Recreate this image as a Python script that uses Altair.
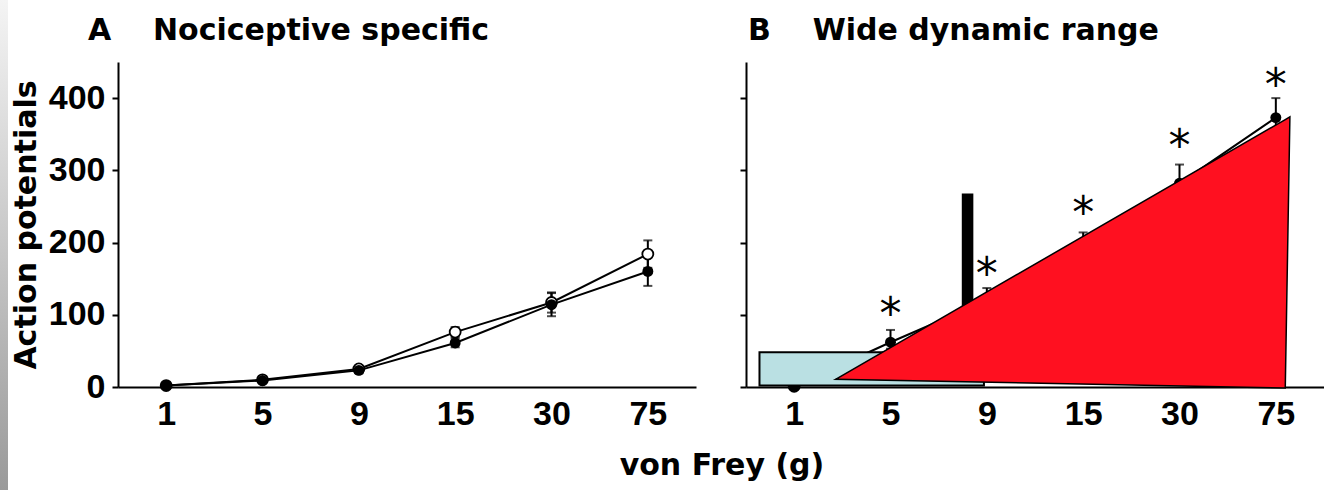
import json
import altair as alt
import pandas as pd

# ---------------- data ----------------
forces = ["1", "5", "9", "15", "30", "75"]
force_idx = [0, 1, 2, 3, 4, 5]

# Panel A: nociceptive specific
a_filled = [2, 9, 23, 61, 114, 160]
a_filled_err = [2, 3, 4, 6, 16, 20]
a_open = [2, 10, 25, 76, 117, 184]
a_open_err = [2, 3, 4, 7, 14, 19]

# Panel B: wide dynamic range
b_filled = [1, 62, 120, 195, 282, 373]
b_filled_err = [2, 17, 17, 19, 26, 27]
b_open = [1, 45, 95, 165, 250, 340]
b_open_err = [1, 8, 12, 15, 20, 15]

# significance stars in panel B
star_idx = [1, 2, 3, 4, 5]
star_val = [115, 171, 255, 347, 432]

# overlay shapes drawn on panel B (force index units, action potentials)
box_x = [-0.36]
box_x2 = [1.97]
box_y = [2]
box_y2 = [48]
bar_x = [1.74]
bar_x2 = [1.86]
bar_y = [60]
bar_y2 = [268]
tri_x = [0.43, 5.098, 5.146]
tri_top = [10.6, 370.3, 374]
tri_bottom = [10.6, -1.4, 374]

# ---------------- helpers ----------------
LABEL_FONT = "Liberation Sans"
TITLE_FONT = "DejaVu Sans"


def series_frame(filled, filled_err, opened, opened_err):
    rows = []
    for name, vals, errs in (("open", opened, opened_err), ("filled", filled, filled_err)):
        for i, v, e in zip(force_idx, vals, errs):
            rows.append({"x": i, "y": v, "lo": v - e, "hi": v + e, "series": name})
    return pd.DataFrame(rows)


xs = alt.Scale(domain=[-0.5, 5.5], nice=False, zero=False)
ys = alt.Scale(domain=[0, 450], nice=False)

x_axis = alt.Axis(
    values=force_idx,
    labelExpr=json.dumps(forces) + "[datum.value]",
    ticks=False,
    grid=False,
    title=None,
    labelFont=LABEL_FONT,
    labelFontSize=34,
    labelFontWeight="bold",
    labelPadding=10,
    labelColor="black",
    domainColor="black",
    domainWidth=2,
)


def y_axis(show):
    return alt.Axis(
        values=[0, 100, 200, 300, 400],
        grid=False,
        labels=show,
        title="Action potentials" if show else None,
        titleFont=TITLE_FONT,
        titleFontSize=30,
        titleFontWeight="bold",
        titleColor="black",
        titlePadding=7,
        labelFont=LABEL_FONT,
        labelFontSize=34,
        labelFontWeight="bold",
        labelPadding=7,
        labelColor="black",
        tickSize=6,
        tickWidth=2,
        tickColor="black",
        domainColor="black",
        domainWidth=2,
    )


def data_layers(df, show_labels):
    X = alt.X("x:Q", scale=xs, axis=x_axis)
    ya = y_axis(show_labels)
    base = alt.Chart(df)
    lines = base.mark_line(color="black", strokeWidth=2).encode(
        x=X, y=alt.Y("y:Q", scale=ys, axis=ya), detail="series:N"
    )
    errs = base.mark_rule(color="black", strokeWidth=2).encode(
        x=X, y=alt.Y("lo:Q", scale=ys, axis=ya), y2="hi:Q"
    )
    cap_hi = base.mark_tick(orient="horizontal", size=9, thickness=2, color="black").encode(
        x=X, y=alt.Y("hi:Q", scale=ys, axis=ya)
    )
    cap_lo = base.mark_tick(orient="horizontal", size=9, thickness=2, color="black").encode(
        x=X, y=alt.Y("lo:Q", scale=ys, axis=ya)
    )
    open_pts = base.transform_filter(alt.datum.series == "open").mark_circle(
        size=120, fill="white", stroke="black", strokeWidth=1.8, opacity=1
    ).encode(x=X, y=alt.Y("y:Q", scale=ys, axis=ya))
    filled_pts = base.transform_filter(alt.datum.series == "filled").mark_circle(
        size=120, color="black", opacity=1
    ).encode(x=X, y=alt.Y("y:Q", scale=ys, axis=ya))
    return [lines, errs, cap_hi, cap_lo, open_pts, filled_pts], X, ya


def panel_title(text, dx, offset):
    return alt.TitleParams(
        text=text,
        anchor="start",
        frame="group",
        font=TITLE_FONT,
        fontSize=30,
        fontWeight="bold",
        color="black",
        baseline="alphabetic",
        dx=dx,
        offset=offset,
    )


# ---------------- scanned-edge strip ----------------
strip = alt.Chart(pd.DataFrame({"k": [0]})).mark_rect(
    fill=alt.LinearGradient(
        gradient="linear",
        stops=[
            alt.GradientStop(color="#f4f4f4", offset=0),
            alt.GradientStop(color="#9a9a9a", offset=1),
        ],
        x1=0, x2=0, y1=0, y2=1,
    )
).encode(x=alt.value(0), x2=alt.value(8), y=alt.value(-62), y2=alt.value(428)).properties(
    width=68, height=325
)

# ---------------- panel A ----------------
dfA = series_frame(a_filled, a_filled_err, a_open, a_open_err)
layersA, XA, yaA = data_layers(dfA, True)

panelA = alt.layer(*layersA).properties(
    width=578,
    height=325,
    title=panel_title("A\u00a0\u00a0\u00a0\u00a0Nociceptive specific", -30, -8),
)

# ---------------- panel B ----------------
dfB = series_frame(b_filled, b_filled_err, b_open, b_open_err)
layersB, XB, yaB = data_layers(dfB, False)

stars = alt.Chart(pd.DataFrame({"x": star_idx, "y": star_val, "t": ["*"] * len(star_idx)})).mark_text(
    font="DejaVu Sans", fontSize=44, color="black", baseline="alphabetic", dy=25
).encode(x=XB, y=alt.Y("y:Q", scale=ys, axis=yaB), text="t:N")

box = alt.Chart(pd.DataFrame({"x": box_x, "x2": box_x2, "y": box_y, "y2": box_y2})).mark_rect(
    fill="#bae0e3", stroke="black", strokeWidth=2
).encode(x=XB, x2="x2:Q", y=alt.Y("y:Q", scale=ys, axis=yaB), y2="y2:Q")

bar = alt.Chart(pd.DataFrame({"x": bar_x, "x2": bar_x2, "y": bar_y, "y2": bar_y2})).mark_rect(
    fill="black"
).encode(x=XB, x2="x2:Q", y=alt.Y("y:Q", scale=ys, axis=yaB), y2="y2:Q")

tri = alt.Chart(pd.DataFrame({"x": tri_x, "y": tri_top, "y2": tri_bottom})).mark_area(
    fill="#ff1020", stroke="black", strokeWidth=1.5, opacity=1
).encode(x=XB, y=alt.Y("y:Q", scale=ys, axis=yaB), y2="y2:Q")

panelB = alt.layer(*layersB, stars, box, bar, tri).properties(
    width=578,
    height=325,
    title=panel_title("B\u00a0\u00a0\u00a0\u00a0Wide dynamic range", 2, -8),
)

chart = alt.hconcat(strip, panelA, panelB, spacing=50, bounds="flush").properties(
    title=alt.TitleParams(
        text="von Frey (g)",
        orient="bottom",
        anchor="middle",
        font=TITLE_FONT,
        fontSize=30,
        fontWeight="bold",
        color="black",
        baseline="alphabetic",
        dx=60,
        offset=-15,
    ),
    padding={"left": 0, "top": 0, "right": 0, "bottom": 0},
    background="white",
).configure_view(stroke=None)

chart.save("out.html", embed_options={"renderer": "svg", "actions": False})
